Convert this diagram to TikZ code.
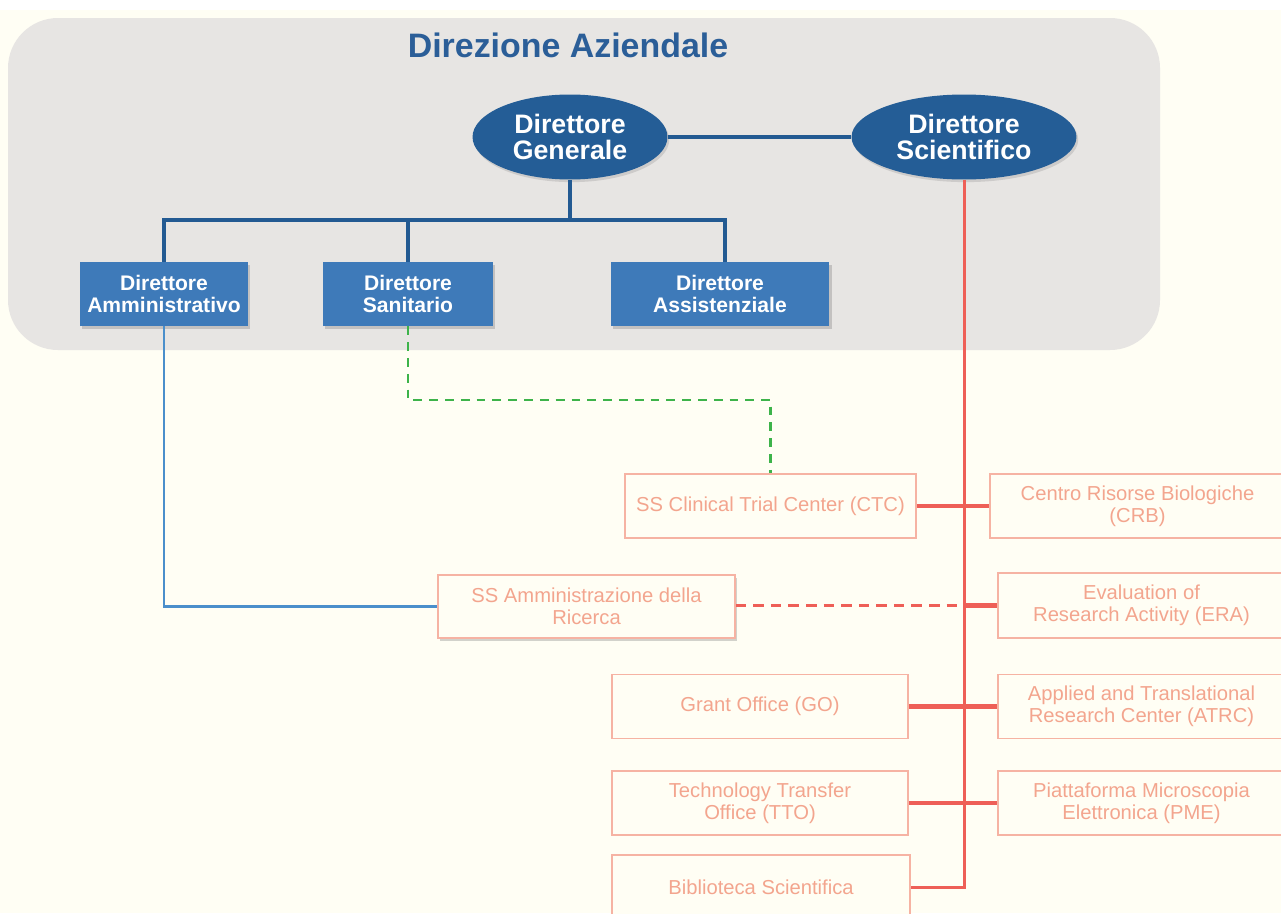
\documentclass[tikz,border=0pt]{standalone}
\usepackage{fontspec}
\setmainfont{Liberation Sans}
\usetikzlibrary{shapes.geometric,shadows,calc}
\definecolor{cream}{HTML}{FFFEF4}
\definecolor{panel}{HTML}{E7E5E3}
\definecolor{titleblue}{HTML}{2B5E98}
\definecolor{ellblue}{HTML}{245D96}
\definecolor{boxblue}{HTML}{3E7AB9}
\definecolor{busblue}{HTML}{235A92}
\definecolor{redl}{HTML}{EE5F57}
\definecolor{salmonbd}{HTML}{F6B3A3}
\definecolor{salmontx}{HTML}{F3A58E}
\definecolor{lineblue}{HTML}{4B8FCB}
\definecolor{greenl}{HTML}{3DB34A}
\tikzset{
  ellnode/.style={ellipse, fill=ellblue, text=white, font=\fontsize{15.2}{16.3}\selectfont\bfseries, align=center, inner sep=0pt,
    drop shadow={shadow xshift=1pt, shadow yshift=-1.5pt, opacity=.25}},
  topbox/.style={rectangle, fill=boxblue, text=white, font=\fontsize{12}{12.3}\selectfont\bfseries, align=center, inner sep=0pt,
    minimum height=1.28cm, drop shadow={shadow xshift=1.2pt, shadow yshift=-1.5pt, opacity=.35}},
  lowbox/.style={rectangle, draw=salmonbd, line width=0.9pt, fill=cream, text=salmontx, font=\fontsize{11.5}{12.3}\selectfont, align=center, inner sep=0pt,
    minimum height=1.28cm},
  bus/.style={draw=busblue, line width=2.3pt},
  redspine/.style={draw=redl, line width=1.7pt},
  redlink/.style={draw=redl, line width=2.4pt},
  reddash/.style={draw=redl, line width=1.7pt, dash pattern=on 6pt off 4pt},
  bluelink/.style={draw=lineblue, line width=1.4pt},
  greendash/.style={draw=greenl, line width=1.2pt, dash pattern=on 5pt off 4pt},
}
\begin{document}
\begin{tikzpicture}[x=0.02cm, y=-0.02cm]
\useasboundingbox (0,0) rectangle (1281,913);
\fill[white] (0,0) rectangle (1281,913);
\fill[cream] (0,10) rectangle (1281,913);
\fill[panel, rounded corners=1.0cm] (8,18) rectangle (1160,350);
\node[text=titleblue, font=\fontsize{19.3}{20}\selectfont\bfseries] (title) at (568,45) {Direzione Aziendale};

\node[ellnode, minimum width=3.9cm, minimum height=1.7cm] (DG) at (570,137) {Direttore\\[-1pt]Generale};
\node[ellnode, minimum width=4.5cm, minimum height=1.7cm] (DS) at (964,137) {Direttore\\[-1pt]Scientifico};

\node[topbox, minimum width=3.36cm] (DA) at (164,294) {Direttore\\Amministrativo};
\node[topbox, minimum width=3.4cm] (DSan) at (408,294) {Direttore\\Sanitario};
\node[topbox, minimum width=4.38cm] (DAss) at (720,294) {Direttore\\Assistenziale};

\coordinate (busy) at (0,220);
\coordinate (greeny) at (0,400);
\coordinate (spine) at (963,0);

\draw[bus] (DG.east) -- (DS.west);
\draw[bus] (DG.south) -- (DG.south |- busy) -| (DA.north);
\draw[bus] (DG.south |- busy) -| (DSan.north);
\draw[bus] (DG.south |- busy) -| ([xshift=0.1cm]DAss.north);

\node[lowbox, minimum width=5.82cm] (CTC) at (770.5,506) {SS Clinical Trial Center (CTC)};
\node[lowbox, minimum width=5.9cm] (CRB) at (1137.5,506) {Centro Risorse Biologiche\\(CRB)};
\node[lowbox, minimum width=5.94cm, minimum height=1.26cm,
  drop shadow={shadow xshift=1.2pt, shadow yshift=-1.5pt, opacity=.35}] (SSA) at (586.5,606.5) {SS Amministrazione della\\Ricerca};
\node[lowbox, minimum width=5.74cm, minimum height=1.3cm] (ERA) at (1141.5,605.5) {Evaluation of\\Research Activity (ERA)};
\node[lowbox, minimum width=5.92cm] (GO) at (760,706.5) {Grant Office (GO)};
\node[lowbox, minimum width=5.74cm] (ATRC) at (1141.5,706.5) {Applied and Translational\\Research Center (ATRC)};
\node[lowbox, minimum width=5.92cm] (TTO) at (760,803) {Technology Transfer\\Office (TTO)};
\node[lowbox, minimum width=5.74cm] (PME) at (1141.5,803) {Piattaforma Microscopia\\Elettronica (PME)};
\node[lowbox, minimum width=5.96cm] (BIB) at (761,887) {Biblioteca Scientifica};

\draw[redspine] (DS.south) -- (DS.south |- BIB.east) -- (BIB.east);
\draw[redlink] (CTC.east) -- (CRB.west);
\draw[reddash] (SSA.east |- ERA.west) -- (ERA.west -| spine);
\draw[redlink] (ERA.west -| spine) -- (ERA.west);
\draw[redlink] (GO.east) -- (ATRC.west);
\draw[redlink] (TTO.east) -- (PME.west);

\draw[bluelink] (DA.south) |- (SSA.west);
\draw[greendash] (DSan.south) -- (DSan.south |- greeny) -| (CTC.north);
\end{tikzpicture}
\end{document}
